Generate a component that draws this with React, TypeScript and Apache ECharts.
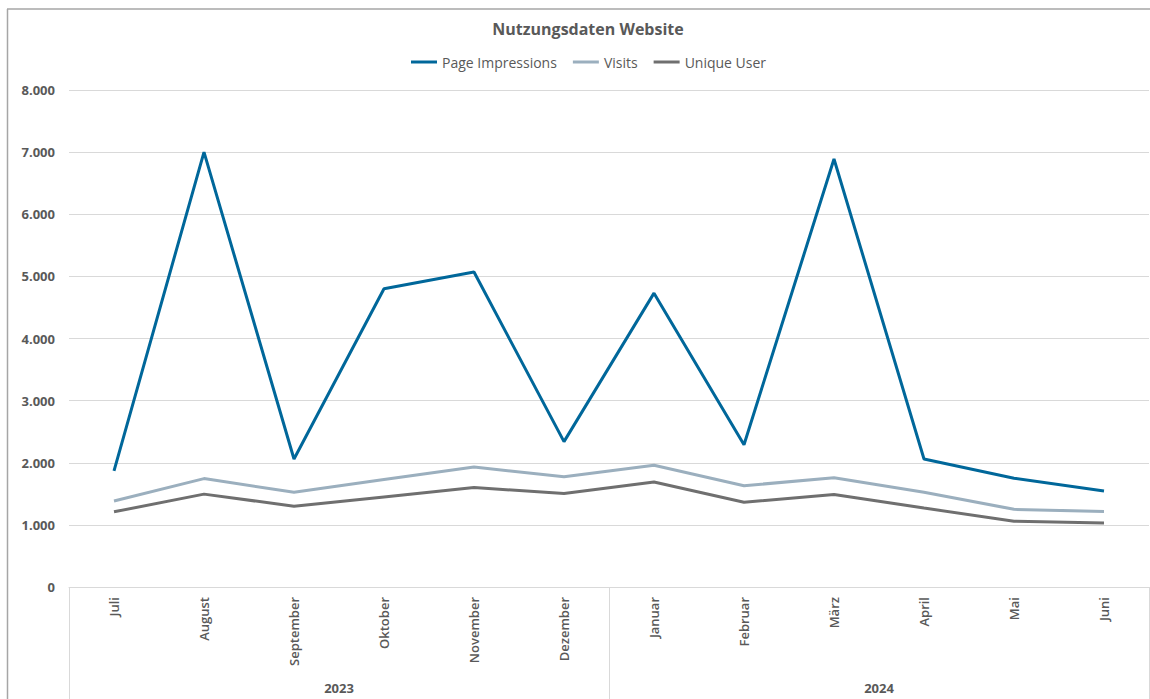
import React, { useEffect, useRef } from "react";
import * as echarts from "echarts";

const months = ["Juli", "August", "September", "Oktober", "November", "Dezember", "Januar", "Februar", "März", "April", "Mai", "Juni"];
const years = ["2023", "2024"];
const pageImpressions = [1870, 7000, 2060, 4800, 5070, 2340, 4730, 2290, 6890, 2060, 1750, 1545];
const visits = [1385, 1745, 1525, 1730, 1930, 1775, 1960, 1630, 1760, 1525, 1250, 1215];
const uniqueUser = [1210, 1495, 1300, 1450, 1600, 1505, 1690, 1365, 1488, 1270, 1060, 1030];

const FONT = "'Open Sans', 'Noto Sans', sans-serif";
const TXT = "#595959";

export default function App() {
  const ref = useRef<HTMLDivElement>(null);
  useEffect(() => {
    if (!ref.current) return;
    const chart = echarts.init(ref.current, null, { renderer: "svg" });
    const fmt = (v: number) => v.toLocaleString("de-DE");
    chart.setOption({
      animation: false,
      backgroundColor: "#ffffff",
      textStyle: { fontFamily: FONT },
      title: {
        text: "Nutzungsdaten Website",
        left: 588,
        top: 21,
        padding: 0,
        textAlign: "center",
        textStyle: { fontFamily: FONT, fontSize: 16, fontWeight: "bold", color: TXT },
      },
      legend: {
        left: 411,
        top: 55,
        padding: 0,
        itemWidth: 26,
        itemHeight: 3,
        itemGap: 16,
        icon: "rect",
        textStyle: { fontFamily: FONT, fontSize: 14, color: TXT },
        data: ["Page Impressions", "Visits", "Unique User"],
      },
      graphic: [
        { type: "line", shape: { x1: 7.5, y1: 9, x2: 7.5, y2: 699 }, style: { stroke: "#a6a6a6", lineWidth: 1.5 } },
        { type: "line", shape: { x1: 7, y1: 9, x2: 1150, y2: 9 }, style: { stroke: "#a6a6a6", lineWidth: 1.5 } },
      ],
      grid: { left: 69, right: 1, top: 90, bottom: 112, containLabel: false },
      xAxis: [
        {
          type: "category",
          data: months,
          boundaryGap: true,
          axisLine: { show: true, lineStyle: { color: "#d9d9d9", width: 1 } },
          axisTick: { show: false },
          axisLabel: { rotate: 90, margin: 10, fontFamily: FONT, fontSize: 13, fontWeight: 600, color: TXT, interval: 0 },
        },
        {
          type: "category",
          data: years,
          position: "bottom",
          boundaryGap: true,
          axisLine: { show: false },
          axisTick: { show: true, length: 112, lineStyle: { color: "#d9d9d9", width: 1 } },
          axisLabel: { margin: 94, fontFamily: FONT, fontSize: 13, fontWeight: "bold", color: TXT },
        },
      ],
      yAxis: {
        type: "value",
        min: 0,
        max: 8000,
        interval: 1000,
        axisLine: { show: false },
        axisTick: { show: false },
        splitLine: { lineStyle: { color: "#d9d9d9", width: 1 } },
        axisLabel: { margin: 14, formatter: fmt, fontFamily: FONT, fontSize: 13, fontWeight: "bold", color: TXT },
      },
      series: [
        { name: "Page Impressions", type: "line", data: pageImpressions, showSymbol: false, symbol: "none", lineStyle: { width: 3, color: "#00679a" }, itemStyle: { color: "#00679a" } },
        { name: "Visits", type: "line", data: visits, showSymbol: false, symbol: "none", lineStyle: { width: 3, color: "#9bafbe" }, itemStyle: { color: "#9bafbe" } },
        { name: "Unique User", type: "line", data: uniqueUser, showSymbol: false, symbol: "none", lineStyle: { width: 3, color: "#6f6f6f" }, itemStyle: { color: "#6f6f6f" } },
      ],
    });
    return () => chart.dispose();
  }, []);
  return (
    <div
      ref={ref}
      style={{ position: "fixed", left: 0, top: 0, width: 1150, height: 699 }}
    />
  );
}
